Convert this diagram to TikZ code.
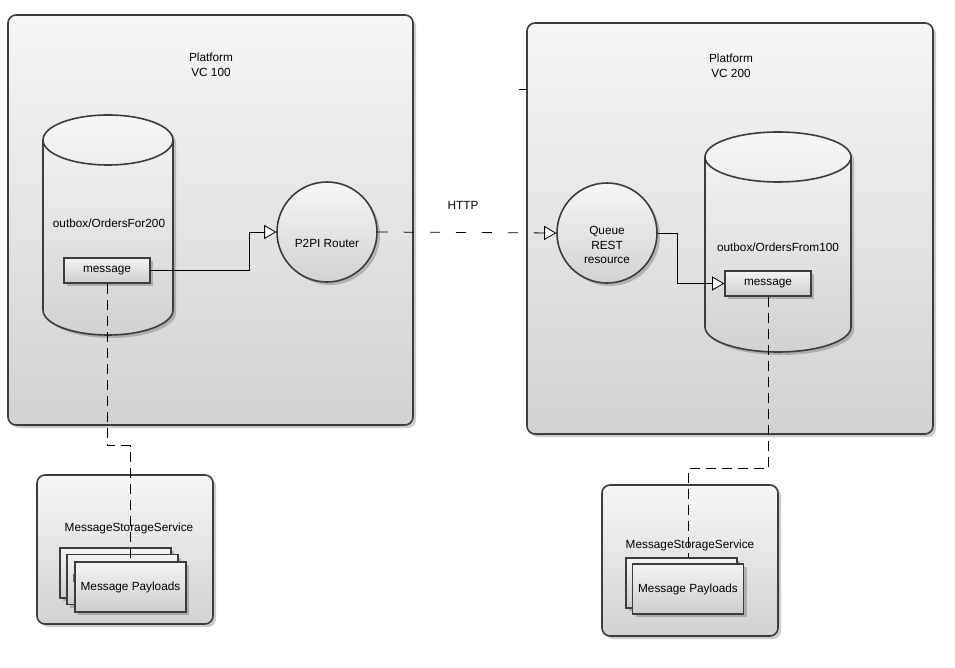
\documentclass[tikz,border=0pt]{standalone}
\usepackage{fontspec}
\setmainfont{Liberation Sans}
\usetikzlibrary{arrows.meta,shadows}

\definecolor{bordc}{HTML}{3C3C3C}
\definecolor{gtop}{HTML}{F6F6F6}
\definecolor{gbot}{HTML}{D2D2D2}
\definecolor{btop}{HTML}{F4F4F4}
\definecolor{bbot}{HTML}{CDCDCD}

\tikzset{
  shad/.style={drop shadow={shadow xshift=3pt, shadow yshift=-3pt, fill=black, opacity=0.2}},
  platform/.style={draw=bordc, line width=1.6pt, rounded corners=8pt,
    top color=gtop, bottom color=gbot, shad, inner sep=0pt},
  msgbox/.style={draw=bordc, line width=1.6pt, top color=btop, bottom color=bbot,
    shad, minimum width=86pt, minimum height=25pt, inner sep=0pt},
  paybox/.style={draw=bordc, line width=1.6pt, top color=btop, bottom color=bbot,
    shad, minimum width=111pt, minimum height=50pt, inner sep=0pt},
  roundnode/.style={circle, draw=bordc, line width=1.6pt, top color=gtop, bottom color=gbot,
    shad, minimum size=100pt, inner sep=0pt},
  cylbody/.style={draw=bordc, line width=1.6pt, top color=gtop, bottom color=gbot, shad},
  cyledge/.style={draw=bordc, line width=1.6pt},
  txt/.style={align=center, inner sep=0pt},
  conn/.style={draw=black, line width=0.8pt},
  tipopen/.style={-{Triangle[length=12pt, width=14pt, fill=white]}},
  dashconn/.style={draw=black, line width=0.8pt, dash pattern=on 10pt off 6pt},
  httpconn/.style={draw=black, line width=0.8pt, dash pattern=on 10pt off 16pt},
}

\begin{document}
\begin{tikzpicture}[x=1pt, y=-1pt, font=\fontsize{11.8}{14.5}\selectfont]
\useasboundingbox (0,0) rectangle (955,668);

% platforms
\node[platform, minimum width=405pt, minimum height=410pt] (p1) at (210.5,220) {};
\node[platform, minimum width=406pt, minimum height=411pt] (p2) at (730,228.5) {};
\node[txt] (p1t) at (211,65) {Platform\\VC 100};
\node[txt] (p2t) at (731,66) {Platform\\VC 200};

% stray stub
\draw[conn] (519,89) -- (527,89);

% storage services
\node[platform, minimum width=176pt, minimum height=149pt] (s1) at (125,549.5) {};
\node[platform, minimum width=176pt, minimum height=151pt] (s2) at (690,560.5) {};
\node[txt] (s1t) at (129,528) {MessageStorageService};
\node[txt] (s2t) at (690,545) {MessageStorageService};

% cylinders
\path[cylbody] (43,140) -- (43,310) arc[start angle=180, end angle=0, x radius=65, y radius=25]
  -- (173,140) arc[start angle=0, end angle=-180, x radius=65, y radius=25] -- cycle;
\draw[cyledge] (43,140) arc[start angle=180, end angle=0, x radius=65, y radius=25];
\path[cylbody] (705,157) -- (705,327) arc[start angle=180, end angle=0, x radius=73, y radius=25]
  -- (851,157) arc[start angle=0, end angle=-180, x radius=73, y radius=25] -- cycle;
\draw[cyledge] (705,157) arc[start angle=180, end angle=0, x radius=73, y radius=25];
\node[txt] (c1t) at (109,223) {outbox/OrdersFor200};
\node[txt] (c2t) at (778,247) {outbox/OrdersFrom100};

% message boxes
\node[msgbox] (m1) at (107,270.5) {message};
\node[msgbox] (m2) at (768,283.5) {message};

% round nodes
\node[roundnode] (r) at (327,232) {};
\node[txt] (rt) at (327,243) {P2PI Router};
\node[roundnode] (q) at (607,233) {};
\node[txt] (qt) at (607,245) {Queue\\REST\\resource};

% payload stacks (left)
\node[paybox] (pa1) at (115.5,573) {Message Payloads};
\node[paybox] (pb1) at (122.5,579.5) {Message Payloads};
% payload stacks (right)
\node[paybox] (pa2) at (681.5,583) {Message Payloads};

% dashed storage links
\draw[dashconn] (m1.south) -- ++(0,162) -| (130.5,562);
\draw[dashconn] (m2.south) -- ++(0,172) -| (688,558);

\node[paybox] (pf1) at (130.5,587) {Message Payloads};
\node[paybox] (pf2) at (688,589) {Message Payloads};

% connectors
\draw[conn, tipopen] (m1.east) -- ++(99,0) |- (r.west);
\draw[httpconn, tipopen] (r.east) -- (q.west);
\node[txt] (http) at (463,205) {HTTP};
\draw[conn, tipopen] (q.east) -- ++(20,0) |- (m2.west);
\end{tikzpicture}
\end{document}
